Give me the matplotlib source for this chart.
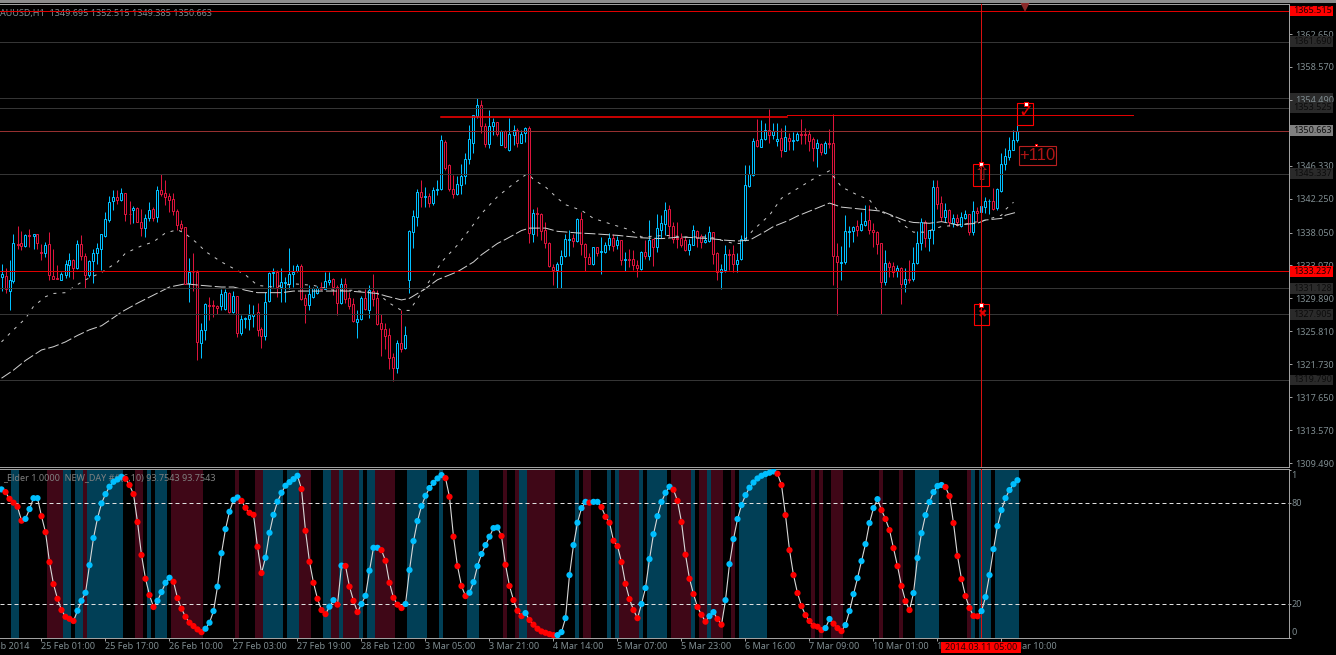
#AUDUSD H1 terminal chart with stochastic sub-window

import matplotlib as mpl
mpl.use('Agg')
import matplotlib.pyplot as plt
from matplotlib.patches import Rectangle

#Hourly candles, one value per bar
opens = [
    1332.6, 1332.7, 1330.8, 1332.1, 1336.6, 1336.7, 1336.4, 1337.7, 1337.6, 1337.9,
    1335.7, 1335.5, 1336.6, 1332.7, 1332.4, 1332.2, 1332.8, 1334.0, 1334.6, 1333.6,
    1336.6, 1335.2, 1332.8, 1334.5, 1335.5, 1336.0, 1337.6, 1339.6, 1341.9, 1342.4,
    1342.1, 1342.9, 1340.4, 1340.8, 1341.1, 1339.4, 1338.6, 1339.8, 1341.0, 1340.0,
    1343.3, 1342.9, 1342.6, 1342.2, 1340.7, 1339.1, 1338.7, 1331.8, 1333.2, 1333.2,
    1324.4, 1326.0, 1329.1, 1329.1, 1329.0, 1328.9, 1328.6, 1330.5, 1328.2, 1330.2,
    1325.6, 1327.3, 1327.3, 1327.7, 1328.2, 1326.1, 1325.2, 1329.6, 1333.0, 1333.2,
    1331.3, 1331.8, 1331.7, 1332.9, 1333.3, 1333.9, 1329.9, 1329.1, 1330.1, 1330.6,
    1331.3, 1331.1, 1331.9, 1332.3, 1331.3, 1329.3, 1331.7, 1330.0, 1329.2, 1327.0,
    1327.3, 1330.0, 1328.5, 1330.8, 1330.0, 1326.9, 1326.1, 1325.3, 1322.6, 1321.3,
    1324.4, 1323.7, 1332.2, 1338.1, 1340.0, 1343.1, 1342.5, 1342.6, 1341.7, 1343.3,
    1343.4, 1349.3, 1346.4, 1343.4, 1342.8, 1344.0, 1345.1, 1347.2, 1349.2, 1352.5,
    1353.8, 1351.2, 1349.0, 1351.2, 1351.7, 1348.9, 1350.6, 1348.3, 1350.1, 1350.7,
    1349.2, 1350.4, 1351.0, 1337.9, 1340.5, 1340.3, 1338.4, 1336.7, 1333.8, 1333.4,
    1334.1, 1335.1, 1337.1, 1337.4, 1337.0, 1339.7, 1336.6, 1335.0, 1334.1, 1336.2,
    1335.6, 1335.7, 1336.5, 1337.4, 1336.5, 1337.1, 1334.7, 1334.8, 1334.8, 1334.0,
    1333.5, 1335.7, 1335.1, 1337.2, 1336.2, 1338.4, 1339.1, 1341.0, 1338.9, 1337.4,
    1337.4, 1337.1, 1335.9, 1336.5, 1338.3, 1337.6, 1336.9, 1337.0, 1338.1, 1335.5,
    1333.1, 1333.4, 1335.4, 1335.4, 1334.1, 1334.8, 1337.1, 1343.8, 1345.2, 1349.5,
    1348.7, 1349.7, 1350.8, 1350.1, 1349.4, 1349.8, 1348.1, 1349.8, 1349.4, 1349.5,
    1350.25, 1350.25, 1350.2, 1349.7, 1348.5, 1349.0, 1347.9, 1349.2, 1349.1, 1335.2,
    1334.3, 1334.4, 1338.1, 1338.2, 1338.9, 1338.4, 1339.0, 1339.6, 1338.4, 1338.1,
    1336.7, 1331.9, 1334.3, 1333.9, 1333.3, 1333.7, 1331.7, 1332.3, 1332.3, 1334.3,
    1336.7, 1339.4, 1337.4, 1338.4, 1343.7, 1341.7, 1340.0, 1340.8, 1339.2, 1339.8,
    1338.8, 1339.8, 1340.3, 1338.1, 1340.7, 1340.6, 1341.2, 1341.9, 1341.9, 1341.1,
    1343.2, 1346.6, 1347.4, 1348.3, 1349.5,
]
highs = [
    1334.1, 1333.6, 1334.6, 1337.9, 1338.9, 1338.3, 1337.9, 1338.5, 1337.9, 1337.9,
    1336.6, 1336.9, 1338.1, 1336.0, 1334.0, 1333.2, 1334.7, 1335.5, 1334.8, 1337.1,
    1337.7, 1335.5, 1334.7, 1336.0, 1336.8, 1337.9, 1340.6, 1342.6, 1343.3, 1343.3,
    1343.6, 1343.0, 1341.9, 1341.3, 1341.2, 1341.0, 1340.3, 1341.8, 1341.2, 1343.8,
    1345.3, 1344.5, 1342.9, 1342.9, 1341.0, 1339.6, 1338.7, 1334.9, 1335.5, 1333.4,
    1326.8, 1329.3, 1330.1, 1329.7, 1329.1, 1331.0, 1331.0, 1330.7, 1330.8, 1330.2,
    1327.8, 1327.6, 1329.2, 1329.1, 1329.3, 1326.4, 1330.7, 1333.2, 1333.7, 1333.4,
    1333.7, 1332.5, 1336.1, 1334.0, 1334.2, 1334.2, 1330.4, 1331.5, 1331.3, 1331.4,
    1331.9, 1333.2, 1333.2, 1332.4, 1331.5, 1332.4, 1332.4, 1330.7, 1329.9, 1328.4,
    1330.2, 1331.1, 1331.5, 1332.9, 1330.9, 1328.0, 1326.8, 1326.2, 1323.1, 1324.7,
    1328.4, 1326.5, 1338.4, 1340.8, 1343.5, 1344.6, 1343.7, 1343.0, 1343.7, 1344.6,
    1350.1, 1349.5, 1346.5, 1345.2, 1345.0, 1346.6, 1347.9, 1351.4, 1352.6, 1354.7,
    1354.5, 1351.6, 1353.2, 1352.2, 1351.7, 1350.7, 1350.8, 1352.3, 1351.4, 1351.0,
    1350.7, 1351.1, 1351.2, 1341.0, 1341.2, 1340.5, 1339.4, 1336.9, 1334.2, 1334.4,
    1335.9, 1337.9, 1338.4, 1337.9, 1339.9, 1340.6, 1336.7, 1335.5, 1336.3, 1336.3,
    1337.5, 1336.9, 1338.0, 1337.9, 1337.6, 1337.1, 1335.6, 1336.0, 1335.9, 1334.6,
    1335.8, 1337.1, 1339.6, 1337.3, 1340.3, 1340.2, 1341.8, 1341.5, 1339.4, 1339.4,
    1338.0, 1337.5, 1337.3, 1339.0, 1338.4, 1337.9, 1337.9, 1338.9, 1338.1, 1335.7,
    1334.1, 1336.5, 1336.0, 1336.5, 1335.5, 1337.7, 1346.4, 1346.4, 1349.8, 1352.1,
    1352.0, 1351.6, 1353.4, 1351.6, 1351.6, 1351.0, 1351.4, 1350.4, 1350.5, 1350.5,
    1352.1, 1351.0, 1350.8, 1349.9, 1349.6, 1349.2, 1349.4, 1350.9, 1352.8, 1336.8,
    1336.4, 1340.2, 1338.9, 1338.9, 1339.6, 1340.6, 1341.5, 1341.5, 1339.2, 1338.3,
    1336.8, 1335.9, 1334.5, 1334.4, 1334.0, 1333.8, 1333.6, 1334.6, 1336.2, 1338.3,
    1339.9, 1339.6, 1338.4, 1344.5, 1344.5, 1342.6, 1341.7, 1341.0, 1340.4, 1340.3,
    1340.6, 1340.8, 1340.4, 1342.0, 1341.2, 1342.3, 1342.4, 1342.2, 1343.6, 1343.6,
    1347.9, 1348.5, 1349.9, 1350.8, 1351.4,
]
lows = [
    1330.8, 1330.6, 1328.4, 1331.8, 1336.0, 1335.9, 1336.3, 1336.2, 1336.0, 1336.0,
    1334.6, 1335.0, 1332.2, 1332.3, 1332.3, 1332.2, 1332.4, 1332.6, 1332.3, 1333.5,
    1334.6, 1331.2, 1332.6, 1331.8, 1334.2, 1333.4, 1337.5, 1339.4, 1340.9, 1341.6,
    1342.0, 1339.5, 1339.1, 1339.2, 1339.3, 1337.6, 1337.5, 1339.5, 1339.5, 1339.4,
    1342.6, 1341.5, 1340.6, 1340.2, 1338.4, 1338.2, 1331.7, 1329.5, 1330.8, 1322.3,
    1322.5, 1324.7, 1327.2, 1327.6, 1327.9, 1328.4, 1328.5, 1328.1, 1328.1, 1325.1,
    1325.4, 1326.2, 1326.0, 1326.4, 1325.2, 1323.8, 1324.7, 1329.5, 1331.3, 1330.1,
    1329.5, 1329.4, 1331.1, 1331.3, 1333.2, 1329.7, 1326.9, 1328.4, 1330.0, 1330.4,
    1330.9, 1331.0, 1331.5, 1330.3, 1327.8, 1329.2, 1329.3, 1328.6, 1327.0, 1325.0,
    1327.2, 1328.4, 1327.4, 1328.9, 1326.6, 1322.7, 1323.6, 1321.1, 1319.6, 1320.7,
    1323.3, 1323.6, 1330.6, 1336.1, 1338.8, 1341.2, 1341.2, 1341.2, 1341.5, 1342.7,
    1343.3, 1345.8, 1343.2, 1342.3, 1342.7, 1342.8, 1344.1, 1346.5, 1347.9, 1352.2,
    1350.4, 1348.6, 1348.5, 1350.1, 1350.0, 1348.9, 1348.5, 1348.2, 1348.9, 1348.7,
    1349.1, 1349.3, 1336.8, 1336.9, 1337.6, 1337.1, 1336.1, 1333.8, 1331.5, 1331.2,
    1331.2, 1335.0, 1335.1, 1336.3, 1336.9, 1335.3, 1333.3, 1334.1, 1334.0, 1335.1,
    1332.9, 1335.5, 1335.9, 1335.8, 1336.0, 1334.0, 1333.3, 1333.8, 1333.4, 1332.6,
    1333.4, 1334.8, 1334.6, 1333.9, 1335.7, 1337.4, 1337.7, 1337.5, 1336.8, 1336.1,
    1336.3, 1335.8, 1335.3, 1336.5, 1336.3, 1336.1, 1336.7, 1336.9, 1334.2, 1332.2,
    1331.0, 1333.2, 1333.4, 1333.2, 1333.2, 1334.7, 1337.0, 1343.7, 1345.1, 1348.7,
    1348.6, 1349.5, 1349.1, 1349.7, 1348.8, 1347.4, 1348.1, 1348.3, 1348.3, 1349.4,
    1349.0, 1349.0, 1348.1, 1346.9, 1346.2, 1347.6, 1347.8, 1348.5, 1331.5, 1327.8,
    1332.2, 1334.1, 1336.2, 1336.9, 1337.6, 1338.2, 1338.9, 1337.9, 1336.2, 1335.4,
    1327.9, 1331.5, 1332.6, 1332.6, 1332.6, 1329.2, 1330.7, 1331.8, 1332.1, 1334.2,
    1335.9, 1336.3, 1335.8, 1336.6, 1341.0, 1339.5, 1339.4, 1338.8, 1338.7, 1338.8,
    1338.7, 1339.7, 1337.7, 1337.7, 1339.4, 1340.5, 1340.5, 1340.4, 1340.8, 1340.8,
    1343.1, 1345.8, 1347.0, 1348.3, 1349.3,
]
closes = [
    1332.9, 1331.0, 1332.2, 1336.7, 1336.5, 1336.4, 1337.7, 1337.6, 1337.9, 1336.7,
    1335.5, 1336.5, 1332.8, 1332.3, 1332.3, 1332.9, 1334.1, 1334.6, 1333.6, 1336.6,
    1335.1, 1332.8, 1334.5, 1335.5, 1336.1, 1337.9, 1339.7, 1341.8, 1342.4, 1342.1,
    1342.9, 1340.3, 1340.3, 1341.1, 1339.3, 1338.6, 1339.9, 1340.8, 1339.9, 1343.3,
    1342.8, 1342.5, 1342.1, 1340.7, 1339.0, 1338.6, 1331.7, 1333.2, 1333.1, 1324.5,
    1326.0, 1329.2, 1328.9, 1329.0, 1328.7, 1330.4, 1330.7, 1328.2, 1330.2, 1325.6,
    1327.3, 1327.5, 1327.8, 1328.0, 1326.0, 1325.2, 1329.5, 1333.0, 1333.2, 1331.3,
    1331.9, 1331.9, 1332.9, 1333.2, 1333.9, 1329.8, 1329.1, 1330.4, 1331.2, 1331.2,
    1331.1, 1332.0, 1332.2, 1331.3, 1329.3, 1331.7, 1329.8, 1328.9, 1327.1, 1327.3,
    1330.0, 1328.6, 1330.9, 1329.8, 1326.7, 1326.1, 1325.2, 1322.5, 1321.3, 1324.4,
    1323.6, 1325.4, 1338.2, 1340.1, 1343.1, 1342.5, 1342.6, 1341.7, 1343.3, 1343.5,
    1349.5, 1346.0, 1343.4, 1342.8, 1344.1, 1345.1, 1347.2, 1349.7, 1352.6, 1353.8,
    1351.3, 1349.0, 1351.2, 1351.7, 1350.2, 1350.6, 1348.6, 1350.2, 1350.7, 1349.1,
    1350.3, 1351.0, 1338.0, 1340.5, 1340.3, 1338.3, 1336.8, 1333.9, 1333.4, 1334.1,
    1335.1, 1337.2, 1337.3, 1337.0, 1339.7, 1336.6, 1335.0, 1334.2, 1336.2, 1335.5,
    1335.8, 1336.5, 1337.4, 1336.4, 1337.1, 1334.7, 1334.8, 1334.6, 1334.0, 1333.6,
    1335.7, 1335.1, 1337.1, 1336.2, 1338.6, 1339.2, 1340.9, 1338.9, 1337.3, 1337.2,
    1336.5, 1335.9, 1336.6, 1338.4, 1337.4, 1336.9, 1337.1, 1338.1, 1335.4, 1333.1,
    1333.5, 1335.4, 1335.3, 1334.1, 1334.7, 1337.3, 1343.9, 1345.3, 1349.4, 1348.8,
    1349.7, 1350.8, 1350.1, 1350.6, 1349.7, 1348.3, 1349.9, 1349.4, 1349.5, 1350.2,
    1350.15, 1350.15, 1349.4, 1348.5, 1349.1, 1348.0, 1349.2, 1349.0, 1335.2, 1334.4,
    1334.4, 1338.2, 1338.3, 1338.7, 1338.4, 1339.1, 1339.5, 1338.4, 1338.1, 1336.6,
    1331.9, 1334.3, 1333.8, 1333.1, 1333.7, 1331.7, 1332.3, 1332.2, 1334.3, 1336.8,
    1339.4, 1337.4, 1338.4, 1343.7, 1341.6, 1340.0, 1340.8, 1339.3, 1339.8, 1339.3,
    1340.0, 1340.3, 1338.1, 1340.7, 1340.5, 1341.3, 1342.0, 1342.0, 1341.0, 1343.4,
    1346.6, 1347.5, 1348.3, 1349.5, 1350.66,
]

#Moving averages as (bar, price) vertices
fast_ma_bars = [0, 3, 6, 8, 11, 13, 16, 18, 21, 25, 29, 31, 35, 38, 41, 44, 46, 49, 51, 55, 58, 61, 64, 68, 73,
                78, 83, 88, 94, 97, 100, 102, 105, 108, 110, 114, 117, 120, 124, 127, 131, 132, 133, 136, 139,
                141, 145, 148, 153, 157, 160, 166, 171, 177, 180, 183, 185, 188, 192, 195, 199, 204, 207, 208,
                210, 214, 217, 219, 223, 226, 228, 231, 235, 240, 244, 246, 250, 251, 253]
fast_ma = [1324.5, 1326.0, 1327.4, 1328.9, 1330.1, 1330.5, 1330.6, 1331.3, 1332.2, 1333.1, 1334.4, 1335.5, 1336.4,
           1336.9, 1338.0, 1338.4, 1337.9, 1336.7, 1335.7, 1334.4, 1333.6, 1332.8, 1331.5, 1331.3, 1331.7, 1331.5,
           1330.9, 1330.9, 1330.5, 1329.3, 1328.4, 1328.4, 1330.6, 1332.8, 1334.4, 1336.5, 1338.4, 1340.4, 1342.5,
           1343.7, 1345.2, 1345.2, 1344.6, 1343.7, 1342.3, 1341.5, 1340.8, 1339.8, 1339.0, 1338.4, 1337.5, 1337.7,
           1337.5, 1337.5, 1337.1, 1336.7, 1336.7, 1338.4, 1340.2, 1342.3, 1343.5, 1345.0, 1345.7, 1345.0, 1343.7,
           1342.7, 1342.1, 1340.8, 1340.0, 1338.8, 1338.1, 1338.1, 1338.8, 1339.0, 1339.4, 1339.6, 1340.2, 1340.9,
           1341.8]
slow_ma_bars = [0, 3, 6, 10, 13, 16, 19, 22, 25, 28, 30, 34, 36, 40, 42, 46, 50, 55, 58, 61, 64, 70, 73, 82, 87,
                94, 96, 100, 102, 106, 109, 114, 118, 120, 124, 126, 130, 132, 136, 139, 144, 148, 154, 160, 165,
                170, 177, 181, 184, 187, 191, 193, 197, 199, 203, 207, 210, 214, 216, 220, 223, 226, 228, 232,
                235, 239, 244, 246, 250, 251, 254]
slow_ma = [1320.0, 1321.0, 1322.2, 1323.5, 1323.9, 1324.5, 1325.3, 1326.0, 1326.5, 1327.5, 1328.2, 1329.3, 1329.8,
           1330.8, 1331.3, 1331.7, 1331.5, 1331.3, 1331.3, 1330.9, 1330.6, 1330.6, 1330.8, 1330.8, 1330.8, 1330.5,
           1330.2, 1329.7, 1329.9, 1331.1, 1332.2, 1333.2, 1334.4, 1335.3, 1336.7, 1337.2, 1338.3, 1338.6, 1338.6,
           1338.2, 1338.0, 1337.9, 1337.7, 1337.4, 1337.3, 1337.5, 1337.3, 1337.1, 1337.0, 1337.1, 1338.2, 1338.8,
           1339.6, 1340.1, 1340.9, 1341.7, 1341.2, 1341.0, 1340.9, 1340.7, 1340.1, 1339.5, 1339.3, 1339.2, 1339.4,
           1339.0, 1339.2, 1339.6, 1339.8, 1340.2, 1340.6]

#Stochastic main line, one value per bar
stoch = [
    88.3, 86.7, 82.7, 80.4, 78.0, 69.7, 70.8, 76.6, 83.1, 83.1,
    72.4, 62.9, 45.1, 32.0, 23.3, 16.6, 12.6, 11.4, 10.1, 16.2,
    22.1, 26.9, 43.3, 59.4, 71.2, 80.0, 85.5, 89.9, 92.8, 94.2,
    95.8, 94.6, 90.9, 85.5, 68.9, 49.3, 35.2, 25.5, 18.4, 22.1,
    27.3, 32.8, 35.8, 33.4, 23.7, 17.4, 12.6, 9.1, 7.1, 5.1,
    3.5, 5.5, 9.1, 16.0, 30.5, 50.4, 64.7, 75.0, 82.1, 83.5,
    81.5, 77.4, 74.4, 73.2, 54.2, 38.6, 47.7, 62.5, 73.2, 81.0,
    86.3, 90.5, 92.6, 94.4, 96.4, 88.5, 63.7, 45.3, 32.8, 23.3,
    16.6, 14.2, 18.6, 22.5, 19.8, 43.0, 42.8, 30.5, 22.1, 15.4,
    20.2, 25.1, 40.0, 53.6, 53.6, 52.2, 45.9, 32.8, 23.9, 19.8,
    17.8, 20.2, 40.4, 57.6, 69.5, 78.4, 84.5, 89.1, 92.2, 94.8,
    96.8, 95.0, 83.9, 60.2, 42.7, 30.9, 24.9, 26.9, 33.2, 42.7,
    49.9, 55.2, 60.2, 65.3, 65.7, 60.6, 43.5, 30.9, 22.5, 16.2,
    13.0, 14.8, 10.7, 7.9, 5.5, 3.9, 3.1, 2.3, 1.7, 1.7,
    3.5, 11.8, 37.4, 55.2, 68.5, 77.2, 80.9, 80.4, 80.9, 80.9,
    77.8, 72.0, 68.5, 57.8, 54.6, 45.1, 32.2, 23.1, 16.6, 11.8,
    20.2, 29.7, 46.9, 61.7, 72.4, 80.9, 86.3, 89.9, 88.1, 81.5,
    68.9, 49.5, 35.2, 26.1, 18.4, 13.8, 9.7, 13.0, 15.4, 11.3,
    7.9, 22.5, 43.9, 58.8, 70.7, 79.0, 84.9, 89.3, 92.4, 94.8,
    96.4, 97.4, 98.2, 99.0, 97.6, 90.9, 73.0, 52.2, 37.4, 26.7,
    19.0, 13.6, 10.1, 7.3, 6.7, 4.7, 5.9, 11.3, 8.5, 5.9,
    4.1, 7.7, 16.0, 26.1, 35.6, 45.7, 55.8, 68.3, 77.2, 82.5,
    76.0, 70.7, 64.1, 53.4, 42.7, 30.9, 21.9, 16.6, 26.7, 47.5,
    62.3, 73.0, 80.8, 86.7, 90.3, 90.9, 89.7, 84.3, 68.3, 48.7,
    35.0, 24.9, 17.8, 13.1, 12.9, 16.0, 24.3, 37.4, 52.8, 66.5,
    76.0, 83.1, 87.9, 91.4, 93.75,
]

#Indicator histogram runs as (first bar, last bar)
teal_runs = [(3, 4), (16, 17), (19, 20), (22, 30), (37, 37), (39, 41), (66, 70), (72, 74), (81, 82), (85, 85),
             (90, 90), (92, 93), (102, 106), (110, 110), (117, 119), (130, 131), (144, 144), (152, 152),
             (154, 154), (160, 160), (162, 166), (173, 173), (177, 177), (185, 191), (229, 234), (243, 243),
             (245, 247), (249, 254)]
maroon_runs = [(12, 15), (21, 21), (34, 35), (43, 50), (59, 59), (64, 65), (75, 77), (83, 84), (86, 89), (94, 98),
               (126, 126), (129, 129), (132, 138), (146, 147), (155, 159), (168, 172), (175, 176), (178, 180),
               (183, 183), (203, 203), (205, 205), (208, 210), (220, 220), (225, 225), (242, 242)]

#Price axis
price_ticks = [1362.65, 1358.57, 1354.49, 1346.33, 1342.25, 1338.05, 1333.97, 1329.89, 1325.81, 1321.73,
               1317.65, 1313.57, 1309.49]
price_tick_labels = ['1362.650', '1358.570', '1354.490', '1346.330', '1342.250', '1338.050', '1333.970',
                     '1329.890', '1325.810', '1321.730', '1317.650', '1313.570', '1309.490']

#Horizontal levels and their price tags
grey_levels = [1361.69, 1354.7, 1353.525, 1345.337, 1331.128, 1327.905, 1319.79]
grey_level_labels = ['1361.690', '', '1353.525', '1345.337', '1331.128', '1327.905', '1319.790']
red_levels = [1365.515, 1333.237]
red_level_labels = ['1365.515', '1333.237']
last_price = 1350.663

#Time axis
date_bars = [-6, 10, 26, 42, 58, 74, 90, 106, 122, 138, 154, 170, 186, 202, 218, 234, 250]
date_labels = ['24 Feb 2014', '25 Feb 01:00', '25 Feb 17:00', '26 Feb 10:00', '27 Feb 03:00', '27 Feb 19:00',
               '28 Feb 12:00', '3 Mar 05:00', '3 Mar 21:00', '4 Mar 14:00', '5 Mar 07:00', '5 Mar 23:00',
               '6 Mar 16:00', '7 Mar 09:00', '10 Mar 01:00', '10 Mar 17:00', '11 Mar 10:00']

#Oscillator axis
osc_ticks = [100, 80, 20, 0]
osc_labels = ['1', '80', '20', '0']

cross_bar = 245

BLUE = '#00bfff'
CRIMSON = '#dc143c'
RED = '#ff0000'
AXIS_GREY = '#a0a0a0'
LABEL_GREY = '#7f8c90'
LEVEL_GREY = '#353535'
FONT = 'Noto Sans'
FS = 6.5
PX = 0.72  #one pixel in points at this dpi

fig = plt.figure(figsize=(13.36, 6.55), dpi=100, facecolor='black')
main = fig.add_axes([0, 1 - 466.5 / 655, 1288.5 / 1336, 462.5 / 655], facecolor='black')
sub = fig.add_axes([0, 1 - 638 / 655, 1288.5 / 1336, 169.3 / 655], facecolor='black')

#Window strip along the top edge
fig.add_artist(Rectangle((0, 1 - 2.5 / 655), 1, 2.5 / 655, transform=fig.transFigure, color='#8c8c8c', lw=0))

for ax in (main, sub):
    ax.set_xlim(-0.375, 321.75)
    ax.spines['left'].set_visible(False)
    for side in ('top', 'right', 'bottom'):
        ax.spines[side].set_color(AXIS_GREY)
        ax.spines[side].set_linewidth(PX)
    ax.yaxis.tick_right()
main.set_ylim(1309.06, 1366.37)
sub.set_ylim(0, 100.6)
main.set_xticks([])

#Candles: wick first, hollow body on top
bars = list(range(len(closes)))
colors = [BLUE if c >= o else CRIMSON for o, c in zip(opens, closes)]
main.vlines(bars, lows, highs, colors=colors, linewidth=PX, zorder=2)
main.bar(bars, [abs(c - o) for o, c in zip(opens, closes)], bottom=[min(o, c) for o, c in zip(opens, closes)],
         width=0.5, facecolor='black', edgecolor=colors, linewidth=PX, zorder=2.1)

main.plot(fast_ma_bars, fast_ma, color='#c8c8c8', linewidth=PX, linestyle=(0, (3, 6)), zorder=3)
main.plot(slow_ma_bars, slow_ma, color='#d0d0d0', linewidth=PX, linestyle=(0, (11, 3)), zorder=3)

#Levels
for level in grey_levels:
    main.axhline(level, color=LEVEL_GREY, linewidth=PX, zorder=4)
for level in red_levels:
    main.axhline(level, color='#e00000', linewidth=PX, zorder=4)
main.axhline(last_price, color='#963030', linewidth=PX, zorder=4)
main.plot([110, 196.5], [1352.4, 1352.4], color=RED, linewidth=1.1, zorder=4)
main.plot([196.5, 283], [1352.56, 1352.56], color='#e00000', linewidth=PX, zorder=4)

#Crosshair
main.axvline(cross_bar, color='#d81010', linewidth=PX, zorder=4)
sub.axvline(cross_bar, color='#d81010', linewidth=PX, zorder=4)

#Price scale
main.set_yticks(price_ticks)
main.set_yticklabels(price_tick_labels, family=FONT, fontsize=FS, color=LABEL_GREY)
main.tick_params(axis='y', length=2.2, width=PX, color=AXIS_GREY, pad=2.4)

#Price tags on the scale
def price_tag(price, label, face, text_color, z):
    main.add_patch(Rectangle((322.1, price - 0.66), 10.7, 1.32, facecolor=face, linewidth=0, clip_on=False, zorder=z))
    main.text(323.0, price, label, family=FONT, fontsize=FS, color=text_color, va='center', clip_on=False, zorder=z + 0.1)

for level, label in zip(grey_levels, grey_level_labels):
    price_tag(level, label, '#2a2a2a', '#0c0c0c', 1 if label == '' else 6)
for level, label in zip(red_levels, red_level_labels):
    price_tag(level, label, RED, '#200000', 6)
price_tag(last_price, '1350.663', '#808080', '#101010', 6)

main.plot([255.75], [1366.0], marker='v', markersize=6.5, color='#8b2a2a', markeredgewidth=0, clip_on=False, zorder=5)

#Chart header
main.text(-0.3, 1365.2, 'AUUSD,H1  1349.695 1352.515 1349.385 1350.663', family=FONT, fontsize=FS,
          color=LABEL_GREY, va='center', zorder=1)

#Order markers with their anchors
for x0, x1, y0, y1 in [(254, 258, 1351.41, 1354.06), (243, 247, 1343.85, 1346.5), (243.2, 246.8, 1326.56, 1329.16)]:
    main.add_patch(Rectangle((x0, y0), x1 - x0, y1 - y0, fill=False, edgecolor=RED, linewidth=0.8, zorder=5))
main.add_patch(Rectangle((254.45, 1346.46), 9.1, 2.28, fill=False, edgecolor='#b82020', linewidth=0.8, zorder=5))
main.plot([256, 245, 245], [1354.0, 1346.55, 1329.1], linestyle='none', marker='s', markersize=3.2,
          markerfacecolor='white', markeredgecolor=RED, markeredgewidth=PX, zorder=6)
main.plot([258.6], [1348.85], linestyle='none', marker='s', markersize=1.8, markerfacecolor='white',
          markeredgecolor=RED, markeredgewidth=PX, zorder=6)
main.text(256, 1353.0, '\u2713', family='DejaVu Sans', fontsize=13, color='#e00000', ha='center', va='center', zorder=6)
main.text(245, 1345.2, '\u21e7', family='DejaVu Sans', fontsize=14, color='#a01818', ha='center', va='center', zorder=6)
main.text(245, 1327.9, '\u2716', family='DejaVu Sans', fontsize=8, color='#e00000', ha='center', va='center', zorder=6)
main.text(259, 1347.6, '+110', family='Liberation Sans', fontsize=12, color='#b01515', ha='center', va='center', zorder=6)

#Oscillator background
for first, last in teal_runs:
    sub.axvspan(first - 0.5, last + 0.5, color='#013f56', linewidth=0, zorder=1)
for first, last in maroon_runs:
    sub.axvspan(first - 0.5, last + 0.5, color='#3f0717', linewidth=0, zorder=1)

sub.axhline(80, color='#e0e0e0', linewidth=PX, linestyle=(0, (4, 3)), zorder=2)
sub.axhline(20, color='#e0e0e0', linewidth=PX, linestyle=(0, (4, 3)), zorder=2)

sub.text(0.4, 95.5, '_Elder 1.0000  NEW_DAY ##(6,10) 93.7543 93.7543', family=FONT, fontsize=FS,
         color='#808080', va='center', zorder=2.5)

#Oscillator line, dots coloured by direction
osc_bars = list(range(len(stoch)))
dot_colors = [BLUE if i == 0 or stoch[i] >= stoch[i - 1] else RED for i in osc_bars]
sub.plot(osc_bars, stoch, color='#d8d8d8', linewidth=0.8, zorder=3)
sub.scatter(osc_bars, stoch, s=20, c=dot_colors, linewidths=0, zorder=4)

#Oscillator scale
sub.set_yticks(osc_ticks)
sub.set_yticklabels([])
sub.tick_params(axis='y', length=1.5, width=PX, color=AXIS_GREY)
for value, label, align in zip(osc_ticks, osc_labels, ['top', 'center', 'center', 'bottom']):
    sub.annotate(label, xy=(1, value), xycoords=sub.get_yaxis_transform(), xytext=(2.2, 0 if align == 'center' else (-1 if align == 'top' else 1)),
                 textcoords='offset points', family=FONT, fontsize=FS, color=LABEL_GREY, va=align, ha='left')

#Time scale
sub.set_xticks(date_bars[1:])
sub.set_xticklabels([])
sub.tick_params(axis='x', length=2.4, width=PX, color=AXIS_GREY)
for bar, label in zip(date_bars, date_labels):
    sub.text(bar, -0.053, label, transform=sub.get_xaxis_transform(), family=FONT, fontsize=FS,
             color=LABEL_GREY, va='center', ha='left', clip_on=False)

#Crosshair time tag
sub.add_patch(Rectangle((234.9, -0.0886), 20, 0.0667, transform=sub.get_xaxis_transform(), facecolor=RED,
                        linewidth=0, clip_on=False, zorder=6))
sub.text(cross_bar, -0.055, '2014.03.11 05:00', transform=sub.get_xaxis_transform(), family=FONT, fontsize=FS,
         color='#300000', va='center', ha='center', clip_on=False, zorder=7)

plt.savefig('out.png', dpi=100, facecolor='black')
plt.close()
